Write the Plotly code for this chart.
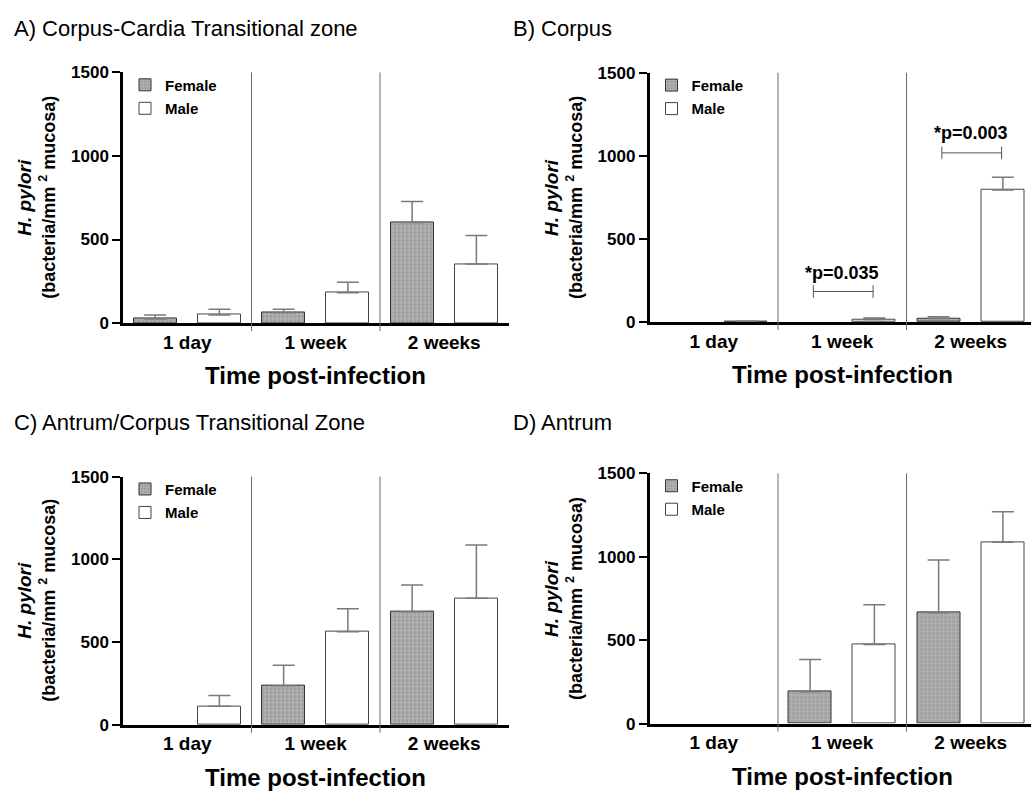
import plotly.graph_objects as go

# ---------------- data ----------------
categories = ["1 day", "1 week", "2 weeks"]
panel_titles = ["A) Corpus-Cardia Transitional zone", "B) Corpus",
                "C) Antrum/Corpus Transitional Zone", "D) Antrum"]

female_A = [25, 62, 602]
female_A_err = [24, 20, 125]
male_A = [49, 181, 353]
male_A_err = [33, 63, 171]

female_B = [0, 0, 22]
female_B_err = [None, None, 10]
male_B = [3, 16, 795]
male_B_err = [2, 8, 76]

female_C = [0, 236, 684]
female_C_err = [None, 124, 161]
male_C = [112, 562, 765]
male_C_err = [65, 140, 322]

female_D = [0, 191, 665]
female_D_err = [None, 193, 316]
male_D = [0, 474, 1087]
male_D_err = [None, 238, 183]

y_ticks = [0, 500, 1000, 1500]

# significance annotations (panel B)
sig_groups = [1, 2]
sig_labels = ["*p=0.035", "*p=0.003"]
sig_bracket_y = [184, 1018]
sig_text_y = [298, 1136]

# ---------------- styling / layout ----------------
W, H = 1031, 800
FONT = "Arial, Liberation Sans, sans-serif"

# panel pixel boxes: (x_left, x_right, y_top, y_bottom)
boxes = [
    (123, 509, 65, 321.7),
    (649.5, 1031, 65.3, 320.7),
    (123, 509, 479, 733.3),
    (649.5, 1031, 475.7, 732),
]
group_px = 128.5

panels = [
    (female_A, female_A_err, male_A, male_A_err),
    (female_B, female_B_err, male_B, male_B_err),
    (female_C, female_C_err, male_C, male_C_err),
    (female_D, female_D_err, male_D, male_D_err),
]

fig = go.Figure()
xpos = list(range(len(categories)))
bar_w = 0.334
off = 0.25


def nz(vals):
    # a zero mean is drawn as no bar at all (as in the original figure)
    return [v if v else None for v in vals]


layout = dict(
    width=W, height=H,
    margin=dict(l=0, r=0, t=0, b=0),
    paper_bgcolor="white", plot_bgcolor="white",
    font=dict(family=FONT, color="black"),
    showlegend=True,
    bargap=0,
)
annotations = []
shapes = []

for i, (fv, fe, mv, me) in enumerate(panels):
    n = "" if i == 0 else str(i + 1)
    xa, ya = "x" + n, "y" + n
    xl, xr, yt, yb = boxes[i]
    legend_name = "legend" + n

    fig.add_trace(go.Bar(
        x=[p - off for p in xpos], y=nz(fv), width=bar_w,
        name="Female", legend=legend_name, legendgroup="f" + n,
        marker=dict(color="#a0a0a0",
                    line=dict(color="#333333", width=1),
                    pattern=dict(shape="+", fgcolor="#c6c6c6", bgcolor="#9c9c9c",
                                 size=4, solidity=0.3, fillmode="replace")),
        error_y=dict(type="data", symmetric=False, array=fe,
                     arrayminus=[0] * len(fe), color="#7a7a7a",
                     thickness=1.5, width=11),
        xaxis=xa, yaxis=ya, showlegend=True,
    ))
    fig.add_trace(go.Bar(
        x=[p + off for p in xpos], y=nz(mv), width=bar_w,
        name="Male", legend=legend_name, legendgroup="m" + n,
        marker=dict(color="white",
                    line=dict(color="#444444", width=1)),
        error_y=dict(type="data", symmetric=False, array=me,
                     arrayminus=[0] * len(me), color="#7a7a7a",
                     thickness=1.5, width=11),
        xaxis=xa, yaxis=ya, showlegend=True,
    ))

    xdom = [xl / W, xr / W]
    ydom = [1 - yb / H, 1 - yt / H]
    xrange_end = -0.5 + (xr - xl) / group_px
    layout["xaxis" + n] = dict(
        domain=xdom, range=[-0.5, xrange_end], anchor=ya,
        tickvals=xpos, ticktext=categories, ticks="",
        showline=True, linecolor="black", linewidth=2.5,
        showgrid=False, zeroline=False,
        tickfont=dict(family=FONT, size=19, weight="bold", color="black"),
    )
    layout["yaxis" + n] = dict(
        domain=ydom, range=[0, 1500], anchor=xa,
        tickvals=y_ticks, ticks="outside", ticklen=8, tickwidth=2,
        tickcolor="black",
        showline=True, linecolor="black", linewidth=2.5,
        showgrid=False, zeroline=False,
        tickfont=dict(family=FONT, size=17, weight="bold", color="black"),
    )
    layout[legend_name] = dict(
        x=(xl + 2) / W, y=1 - (yt - 4) / H, xanchor="left", yanchor="top",
        bgcolor="rgba(0,0,0,0)", borderwidth=0, tracegroupgap=1,
        font=dict(family=FONT, size=15, weight="bold", color="black"),
    )

    # group dividers
    for d in [0.5, 1.5]:
        shapes.append(dict(type="line", xref=xa, yref=ya + " domain",
                           x0=d, x1=d, y0=-0.032, y1=1,
                           line=dict(color="#6a6a6a", width=1)))

    # panel title
    title_x = 12 if i % 2 == 0 else 511
    title_y = 20 if i < 2 else 424
    annotations.append(dict(
        text=panel_titles[i], xref="paper", yref="paper",
        x=title_x / W, y=1 - title_y / H, xanchor="left", yanchor="middle",
        showarrow=False, font=dict(family=FONT, size=22, color="black")))

    # x-axis title
    annotations.append(dict(
        text="<b>Time post-infection</b>", xref="paper", yref="paper",
        x=(xl + (xl + 3 * group_px)) / 2 / W, y=1 - (yb + 54) / H,
        xanchor="center", yanchor="middle", showarrow=False,
        font=dict(family=FONT, size=24, color="black")))

    # y-axis title (two lines)
    ymid = 1 - (yt + yb) / 2 / H
    annotations.append(dict(
        text="<b><i>H. pylori</i></b>", xref="paper", yref="paper",
        x=(xl - 98) / W, y=ymid, xanchor="center", yanchor="middle",
        textangle=-90, showarrow=False,
        font=dict(family=FONT, size=19, color="black")))
    annotations.append(dict(
        text="<b>(bacteria/mm <sup>2</sup> mucosa)</b>", xref="paper", yref="paper",
        x=(xl - 75) / W, y=ymid, xanchor="center", yanchor="middle",
        textangle=-90, showarrow=False,
        font=dict(family=FONT, size=18, color="black")))

# significance brackets in panel B
for g, lab, by, ty in zip(sig_groups, sig_labels, sig_bracket_y, sig_text_y):
    x0, x1 = g - 0.225, g + 0.24
    shapes.append(dict(type="line", xref="x2", yref="y2", x0=x0, x1=x1, y0=by, y1=by,
                       line=dict(color="#555555", width=1)))
    for xx in (x0, x1):
        shapes.append(dict(type="line", xref="x2", yref="y2", x0=xx, x1=xx,
                           y0=by - 38, y1=by + 38,
                           line=dict(color="#555555", width=1)))
    annotations.append(dict(
        text="<b>" + lab + "</b>", xref="x2", yref="y2", x=g, y=ty,
        xanchor="center", yanchor="middle", showarrow=False,
        font=dict(family=FONT, size=18, color="black")))

layout["annotations"] = annotations
layout["shapes"] = shapes
fig.update_layout(**layout)

fig.write_html("out.html")
